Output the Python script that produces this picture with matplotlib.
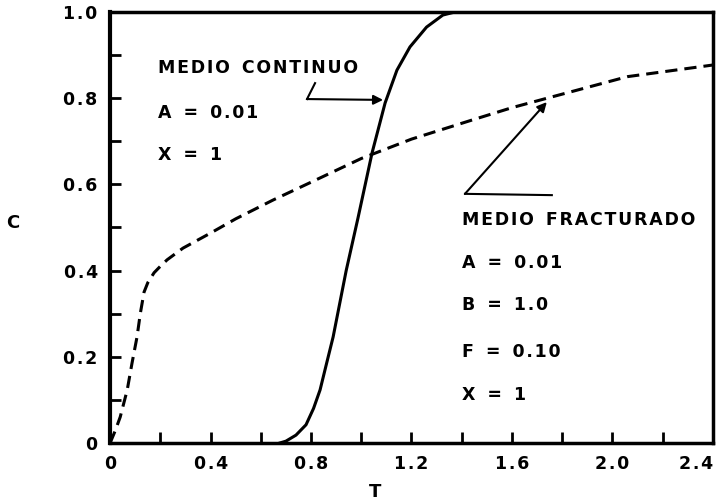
import matplotlib
matplotlib.use('Agg')
import matplotlib.pyplot as plt
from matplotlib.ticker import MultipleLocator

# Medio fracturado (linea discontinua)
t_frac = [0.0, 0.02, 0.04, 0.068, 0.087, 0.107, 0.12, 0.135, 0.15, 0.175, 0.2,
          0.227, 0.29, 0.4, 0.5, 0.65, 0.8, 1.0, 1.2, 1.445, 1.6, 1.74, 2.06, 2.4]
c_frac = [0.0, 0.028, 0.06, 0.123, 0.185, 0.246, 0.30, 0.35, 0.372, 0.395, 0.41,
          0.425, 0.452, 0.487, 0.52, 0.564, 0.605, 0.66, 0.705, 0.75, 0.778, 0.80, 0.85, 0.877]

# Medio continuo (linea continua)
t_cont = [0.677, 0.70, 0.74, 0.78, 0.81, 0.836, 0.86, 0.888, 0.94, 0.987, 1.043,
          1.095, 1.142, 1.194, 1.26, 1.325, 1.373]
c_cont = [0.0, 0.004, 0.018, 0.042, 0.08, 0.123, 0.18, 0.246, 0.40, 0.522, 0.673,
          0.789, 0.865, 0.919, 0.965, 0.993, 1.0]

x_ticks = [0, 0.4, 0.8, 1.2, 1.6, 2.0, 2.4]
x_tick_labels = ['0', '0.4', '0.8', '1.2', '1.6', '2.0', '2.4']
y_ticks = [0, 0.2, 0.4, 0.6, 0.8, 1.0]
y_tick_labels = ['0', '0.2', '0.4', '0.6', '0.8', '1.0']

texto_continuo = ['MEDIO CONTINUO', 'A = 0.01', 'X = 1']
texto_fracturado = ['MEDIO FRACTURADO', 'A = 0.01', 'B = 1.0', 'F = 0.10', 'X = 1']


def spaced(s):
    # Schablonenschrift: Buchstaben etwas auseinander (hair space)
    words = [w for w in s.split(' ')]
    return '  '.join('\u200a'.join(w) for w in words)


plt.rcParams['font.family'] = 'DejaVu Sans'
plt.rcParams['font.weight'] = 'bold'

fig = plt.figure(figsize=(7.2, 5.01), dpi=100)
ax = fig.add_axes([0.153, 0.116, 0.837, 0.860])

ax.plot(t_frac, c_frac, color='black', linewidth=2.2, linestyle='--', dashes=(4, 2.3))
ax.plot(t_cont, c_cont, color='black', linewidth=2.2)

ax.set_xlim(0, 2.4)
ax.set_ylim(0, 1.0)
ax.set_xticks(x_ticks)
ax.set_xticklabels([spaced(s) for s in x_tick_labels])
ax.set_yticks(y_ticks)
ax.set_yticklabels([spaced(s) for s in y_tick_labels])
ax.xaxis.set_minor_locator(MultipleLocator(0.2))
ax.yaxis.set_minor_locator(MultipleLocator(0.1))
ax.tick_params(which='both', direction='in', length=8, width=2, top=False, right=False)
ax.tick_params(axis='both', labelsize=12.5, pad=9)
# letzte Beschriftung (2.4) am Rand nicht abschneiden
ax.get_xticklabels()[-1].set_horizontalalignment('right')

for side in ['left', 'bottom', 'top', 'right']:
    ax.spines[side].set_linewidth(2.5)
ax.spines['left'].set_linewidth(3)

ax.set_xlabel('T', fontsize=13, fontweight='bold')
ax.xaxis.set_label_coords(0.44, -0.093)
ax.set_ylabel('C', fontsize=13, fontweight='bold', rotation=0, va='center', ha='center')
ax.yaxis.set_label_coords(-0.161, 0.51)

# Beschriftung Medio continuo
for i, s in enumerate(texto_continuo):
    ax.text(0.19, [0.87, 0.766, 0.668][i], spaced(s), fontsize=12.5,
            fontweight='bold', va='center', ha='left')
ax.plot([0.816, 0.784], [0.835, 0.798], color='black', linewidth=1.5)
ax.annotate('', xy=(1.087, 0.796), xytext=(0.784, 0.798),
            arrowprops=dict(arrowstyle='-|>', color='black', lw=1.5, mutation_scale=14,
                            shrinkA=0, shrinkB=0))

# Beschriftung Medio fracturado
for i, s in enumerate(texto_fracturado):
    ax.text(1.40, [0.517, 0.418, 0.32, 0.211, 0.111][i], spaced(s), fontsize=12.5,
            fontweight='bold', va='center', ha='left')
ax.plot([1.759, 1.413], [0.575, 0.578], color='black', linewidth=1.5)
ax.annotate('', xy=(1.739, 0.791), xytext=(1.413, 0.578),
            arrowprops=dict(arrowstyle='-|>', color='black', lw=1.5, mutation_scale=14,
                            shrinkA=0, shrinkB=0))

fig.savefig('out.png', dpi=100)
